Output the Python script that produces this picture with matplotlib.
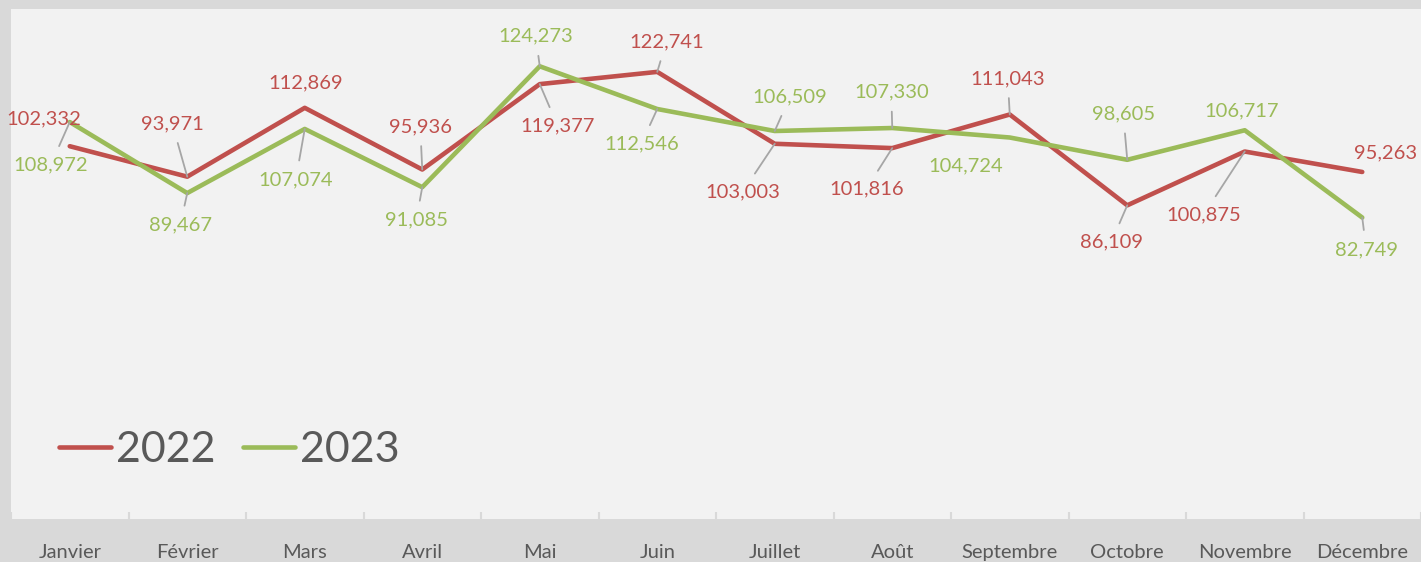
import matplotlib
matplotlib.use("Agg")
import numpy as np
from matplotlib import pyplot as plt

# data
months = ["Janvier", "Février", "Mars", "Avril", "Mai", "Juin", "Juillet",
          "Août", "Septembre", "Octobre", "Novembre", "Décembre"]
sales_2022 = [102332, 93971, 112869, 95936, 119377, 122741, 103003,
              101816, 111043, 86109, 100875, 95263]
sales_2023 = [108972, 89467, 107074, 91085, 124273, 112546, 106509,
              107330, 104724, 98605, 106717, 82749]

# label offsets (pixels from the point) and whether a leader line shows
offs_2022 = [(-26, 27), (-15, 53), (1, 25), (-2, 43), (18, -42), (9, 30),
             (-32, -48), (-26, -41), (-2, 36), (-16, -37), (-41, -63), (23, 19)]
lead_2022 = [False, True, False, True, True, True, True, True, True, True, True, False]
offs_2023 = [(-19, -43), (-7, -32), (-9, -51), (-6, -33), (-4, 30), (-16, -35),
             (15, 34), (-1, 36), (-44, -28), (-4, 46), (-3, 19), (4, -32)]
lead_2023 = [True, True, True, True, True, True, True, True, False, True, False, True]

red = "#c0504d"
green = "#9bbb59"
txt = "#595959"
plt.rcParams["font.family"] = ["Lato", "DejaVu Sans"]

fig = plt.figure(figsize=(14.21, 5.62), dpi=100, facecolor="#d9d9d9")
ax = fig.add_axes([11 / 1421, 43 / 562, 1410 / 1421, 510 / 562])
ax.set_facecolor("#f2f2f2")

x = np.arange(len(months))
ax.plot(x, sales_2022, color=red, lw=3.3, solid_capstyle="round", label="2022", zorder=3)
ax.plot(x, sales_2023, color=green, lw=3.3, solid_capstyle="round", label="2023", zorder=3)


def add_labels(values, offs, leads, color):
    for i, v in enumerate(values):
        props = None
        if leads[i]:
            props = dict(arrowstyle="-", color="#a6a6a6", lw=1.3,
                         shrinkA=6, shrinkB=0)
        ax.annotate(f"{v:,}", (x[i], v), xytext=offs[i], textcoords="offset pixels",
                    ha="center", va="center", color=color, fontsize=14.5,
                    arrowprops=props, zorder=4)


add_labels(sales_2022, offs_2022, lead_2022, red)
add_labels(sales_2023, offs_2023, lead_2023, green)

ax.set_xlim(-0.5, 11.5)
ax.set_ylim(0, 140000)
ax.set_yticks([])
ax.set_xticks(x)
ax.set_xticklabels(months, color=txt, fontsize=14.5)
ax.set_xticks(np.arange(-0.5, 12, 1), minor=True)
ax.tick_params(axis="x", which="major", length=0, pad=18)
ax.tick_params(axis="x", which="minor", length=5, direction="in", color="#d9d9d9", width=1.5)
for s in ax.spines.values():
    s.set_visible(False)

leg = ax.legend(loc="center left", bbox_to_anchor=(0.034, 0.135), frameon=False,
                fontsize=31, handlelength=1.2, handletextpad=0.12,
                columnspacing=0.65, ncol=2, borderpad=0, borderaxespad=0)
for t in leg.get_texts():
    t.set_color(txt)

fig.savefig("out.png", dpi=100, facecolor=fig.get_facecolor())
